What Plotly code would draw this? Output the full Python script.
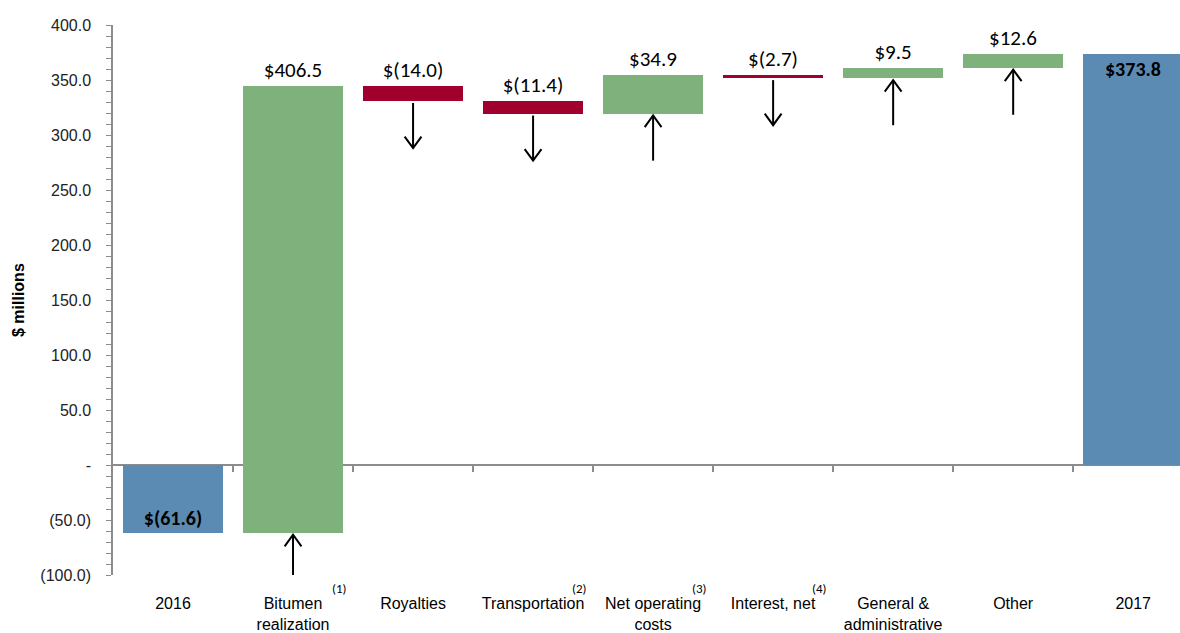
import numpy as np
import plotly.graph_objects as go

# ---- data -------------------------------------------------------------
categories = ["2016", "Bitumen<br>realization", "Royalties", "Transportation",
              "Net operating<br>costs", "Interest, net", "General &<br>administrative",
              "Other", "2017"]
footnotes = ["", "(1)", "", "(2)", "(3)", "(4)", "", "", ""]
start_value = -61.6
changes = [406.5, -14.0, -11.4, 34.9, -2.7, 9.5, 12.6]
end_value = 373.8
y_tickvals = [-100, -50, 0, 50, 100, 150, 200, 250, 300, 350, 400]

# ---- styling ----------------------------------------------------------
BLUE = "#5B8BB3"
GREEN = "#7FB17D"
RED = "#A0002E"
AXIS_GREY = "#8C8C8C"
SANS = "Liberation Sans, Arial, sans-serif"
LABEL_FONT = "Carlito, Calibri, Lato, sans-serif"
ARROW_LEN = 41.0    # arrow length (y units)
ARROW_GAP = 1.8     # gap between bar and arrow (y units)
HEAD_DX = 0.07      # arrow head half-width (category units)
HEAD_DY = 10.5      # arrow head length (y units)


def money(v):
    return f"${v:,.1f}" if v >= 0 else f"$({abs(v):,.1f})"


def axis_label(v):
    if v == 0:
        return "-"
    return f"{v:.1f}" if v > 0 else f"({abs(v):.1f})"


# ---- waterfall geometry -----------------------------------------------
n = len(categories)
x = np.arange(n)
levels = np.cumsum([start_value] + changes)          # running totals
prev = levels[:-1]
curr = levels[1:]

bases = [0.0] + list(np.minimum(prev, curr)) + [0.0]
heights = [start_value] + [abs(c) for c in changes] + [end_value]
colors = [BLUE] + [GREEN if c > 0 else RED for c in changes] + [BLUE]

fig = go.Figure()

# change bars with their value above
fig.add_trace(go.Bar(
    x=x[1:-1], y=heights[1:-1], base=bases[1:-1], width=0.835,
    marker=dict(color=colors[1:-1], line=dict(width=0)),
    text=[money(c) for c in changes], textposition="outside",
    textangle=0, constraintext="none",
    textfont=dict(family=LABEL_FONT, size=21, color="black"),
    cliponaxis=False, showlegend=False, hoverinfo="skip",
))

# opening and closing totals, value printed inside in bold
fig.add_trace(go.Bar(
    x=[x[0], x[-1]], y=[start_value, end_value], base=[0, 0], width=0.835,
    marker=dict(color=[BLUE, BLUE], line=dict(width=0)),
    text=[f"<b>{money(start_value)}</b>", f"<b>{money(end_value)}</b>"],
    textposition="inside", insidetextanchor="end",
    textangle=0, constraintext="none",
    textfont=dict(family=LABEL_FONT, size=20, color="black"),
    cliponaxis=False, showlegend=False, hoverinfo="skip",
))

# ---- direction arrows under each change bar ---------------------------
ax_pts, ay_pts = [], []
for i, (c, p, q) in enumerate(zip(changes, prev, curr)):
    xi = i + 1
    bottom = min(p, q)
    top_end = bottom - ARROW_GAP
    low_end = top_end - ARROW_LEN
    if c > 0:
        tip, sign = top_end, -1      # head points up
    else:
        tip, sign = low_end, 1       # head points down
    ax_pts += [xi, xi, None, xi - HEAD_DX, xi, xi + HEAD_DX, None]
    ay_pts += [low_end, top_end, None, tip + sign * HEAD_DY, tip, tip + sign * HEAD_DY, None]

fig.add_trace(go.Scatter(
    x=ax_pts, y=ay_pts, mode="lines",
    line=dict(color="black", width=2), cliponaxis=False,
    showlegend=False, hoverinfo="skip",
))

# invisible trace so the zero-line axis is drawn
fig.add_trace(go.Scatter(x=[0], y=[0], xaxis="x2", yaxis="y", mode="markers",
                         marker=dict(opacity=0), showlegend=False, hoverinfo="skip"))

annotations = []
# footnote markers beside the category labels
for i, note in enumerate(footnotes):
    if note:
        annotations.append(dict(
            x=i + 0.38, y=-0.025, xref="x", yref="paper", text=note,
            showarrow=False, xanchor="center", yanchor="middle",
            font=dict(family=LABEL_FONT, size=13, color="black")))

# y-axis title
annotations.append(dict(
    x=-95 / 1067, y=0.5, xref="paper", yref="paper", text="<b>$ millions</b>",
    textangle=-90, showarrow=False, xanchor="center", yanchor="middle",
    font=dict(family=SANS, size=16, color="black")))

x_range = [-0.5, 8.39]
boundaries = [i + 0.5 for i in range(n - 1)]

fig.update_layout(
    width=1180, height=633,
    margin=dict(l=113, r=0, t=25, b=55),
    paper_bgcolor="white", plot_bgcolor="white",
    bargap=0, barmode="overlay",
    annotations=annotations,
    xaxis=dict(
        range=x_range, tickmode="array", tickvals=list(x), ticktext=categories,
        showline=False, showgrid=False, zeroline=False, ticks="",
        ticklabelstandoff=17,
        tickfont=dict(family=SANS, size=16, color="black"),
    ),
    xaxis2=dict(
        overlaying="x", anchor="free",
        position=(0 - y_tickvals[0]) / (y_tickvals[-1] - y_tickvals[0]),
        range=x_range, tickmode="array", tickvals=boundaries,
        showticklabels=False, showgrid=False, zeroline=False,
        showline=True, linecolor=AXIS_GREY, linewidth=2,
        ticks="outside", ticklen=6, tickwidth=1.5, tickcolor=AXIS_GREY,
        layer="below traces",
    ),
    yaxis=dict(
        range=[y_tickvals[0], y_tickvals[-1]], tickmode="array",
        tickvals=y_tickvals, ticktext=[axis_label(v) for v in y_tickvals],
        showgrid=False, zeroline=False,
        showline=True, linecolor=AXIS_GREY, linewidth=1.5,
        ticks="outside", ticklen=5, tickwidth=1.2, tickcolor=AXIS_GREY,
        minor=dict(dtick=10, ticks="outside", ticklen=5, tickwidth=1.2,
                   tickcolor=AXIS_GREY, showgrid=False),
        ticklabelstandoff=12,
        tickfont=dict(family=SANS, size=16, color="#222"),
    ),
)

fig.write_html("out.html")
